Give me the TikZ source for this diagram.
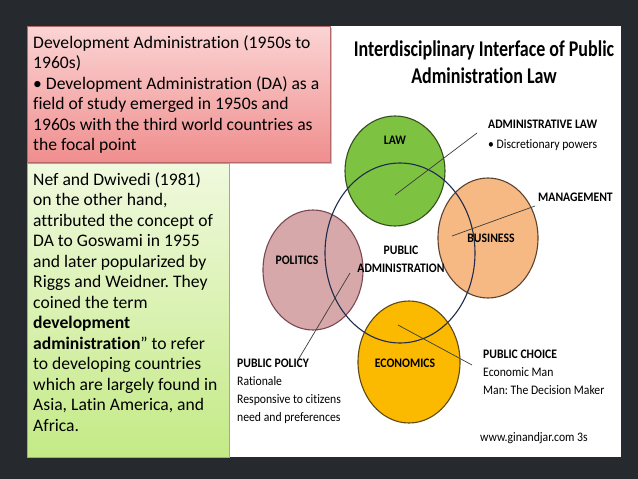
\documentclass[tikz,border=0pt]{standalone}
\usepackage{fontspec}
\setmainfont{Carlito}[Ligatures=NoCommon]
\newfontfamily\narrowfont{Carlito}[FakeStretch=0.9, Ligatures=NoCommon]
\newfontfamily\headfont{Carlito}[FakeStretch=0.8, Ligatures=NoCommon]
\usetikzlibrary{shadows}

\definecolor{slatebg}{HTML}{26292E}
\definecolor{pinktop}{HTML}{FBD4D4}
\definecolor{pinkbot}{HTML}{F08E8E}
\definecolor{pinkline}{HTML}{B46A6A}
\definecolor{limetop}{HTML}{F0F9DE}
\definecolor{limebot}{HTML}{C4EA86}
\definecolor{limeline}{HTML}{9DAF7E}
\definecolor{lawfill}{HTML}{7EC242}
\definecolor{lawline}{HTML}{33501E}
\definecolor{polfill}{HTML}{D6A8AA}
\definecolor{polline}{HTML}{7A4852}
\definecolor{busfill}{HTML}{F7B983}
\definecolor{busline}{HTML}{5C4230}
\definecolor{ecofill}{HTML}{FBB900}
\definecolor{ecoline}{HTML}{5E4A12}
\definecolor{paline}{HTML}{1E2C4C}
\definecolor{leadline}{HTML}{3C3C3C}

\frenchspacing
\begin{document}
\begin{tikzpicture}[x=1pt,y=-1pt,
    note/.style={align=left, anchor=north west, inner sep=0pt,
      font=\fontsize{17.6}{20.5}\selectfont},
    hub/.style={line width=1.1pt},
    tag/.style={inner sep=0pt, font=\narrowfont\bfseries\fontsize{13}{18}\selectfont},
    side/.style={inner sep=0pt, anchor=base west, align=left,
      font=\narrowfont\fontsize{13}{18}\selectfont},
    lead/.style={leadline, line width=0.7pt}]
  \useasboundingbox (0,0) rectangle (638,479);
  \fill[slatebg] (0,0) rectangle (638,479);
  % white panel
  \fill[white] (228,26) rectangle (621,457);

  % title
  \node[align=center, inner sep=0pt, font=\headfont\bfseries\fontsize{22.5}{27}\selectfont]
    (title) at (484,62) {Interdisciplinary Interface of Public\\Administration Law};

  % circles
  \draw[hub, draw=lawline, fill=lawfill] (395,171) ellipse [x radius=50, y radius=55];
  \draw[hub, draw=polline, fill=polfill] (313,270) ellipse [x radius=50, y radius=60];
  \draw[hub, draw=busline, fill=busfill] (488,238) ellipse [x radius=50, y radius=60];
  \draw[hub, draw=ecoline, fill=ecofill] (409,362) ellipse [x radius=51, y radius=61];
  \draw[hub, draw=paline] (400,253) ellipse [x radius=75, y radius=90];

  \node[tag] (law) at (395,140) {LAW};
  \node[tag] (politics) at (297,260) {POLITICS};
  \node[tag] (business) at (491,238) {BUSINESS};
  \node[tag] (economics) at (405,363) {ECONOMICS};
  \node[tag, align=center] (pubadmin) at (401,259) {PUBLIC\\ADMINISTRATION};

  % side notes (base = last line)
  \node[side] (adminlaw) at (488,128) {\bfseries ADMINISTRATIVE LAW};
  \node[side] (discretion) at (488,148) {• Discretionary powers};
  \node[side] (management) at (538,201) {\bfseries MANAGEMENT};
  \node[side] (policy) at (237,421) {\bfseries PUBLIC POLICY\\Rationale\\Responsive to citizens\\need and preferences};
  \node[side] (choice) at (483,394) {\bfseries PUBLIC CHOICE\\Economic Man\\Man: The Decision Maker};
  \node[side] (source) at (480,441) {www.ginandjar.com 3s};

  % leader lines
  \coordinate (lawin) at (395,195);
  \coordinate (lawout) at (477,133);
  \coordinate (busin) at (452,236);
  \coordinate (busout) at (535,206);
  \coordinate (polin) at (350,273);
  \coordinate (polout) at (298,360);
  \coordinate (ecoin) at (398,325);
  \coordinate (ecoout) at (472,365);
  \draw[lead] (lawin) -- (lawout);
  \draw[lead] (busin) -- (busout);
  \draw[lead] (polin) -- (polout);
  \draw[lead] (ecoin) -- (ecoout);

  % text boxes
  \node[draw=pinkline, top color=pinktop, bottom color=pinkbot,
    drop shadow={opacity=0.45, shadow xshift=2pt, shadow yshift=-2pt},
    minimum width=303pt, minimum height=136pt, inner sep=0pt, anchor=north west]
    (pinkbox) at (27,26) {};
  \node[note] (pinktext) at ([xshift=6pt, yshift=-9pt]pinkbox.north west)
    {Development Administration (1950s to\\1960s)\\• Development Administration (DA) as a\\field of study emerged in 1950s and\\1960s with the third world countries as\\the focal point};

  \node[draw=limeline, top color=limetop, bottom color=limebot,
    minimum width=202pt, minimum height=294pt, inner sep=0pt, anchor=north west]
    (limebox) at (27,163) {};
  \node[note] (limetext) at ([xshift=6pt, yshift=-9pt]limebox.north west)
    {Nef and Dwivedi (1981)\\on the other hand,\\attributed the concept of\\DA to Goswami in 1955\\and later popularized by\\Riggs and Weidner. They\\coined the term\\\textbf{development}\\\textbf{administration}” to refer\\to developing countries\\which are largely found in\\Asia, Latin America, and\\Africa.};
\end{tikzpicture}
\end{document}
